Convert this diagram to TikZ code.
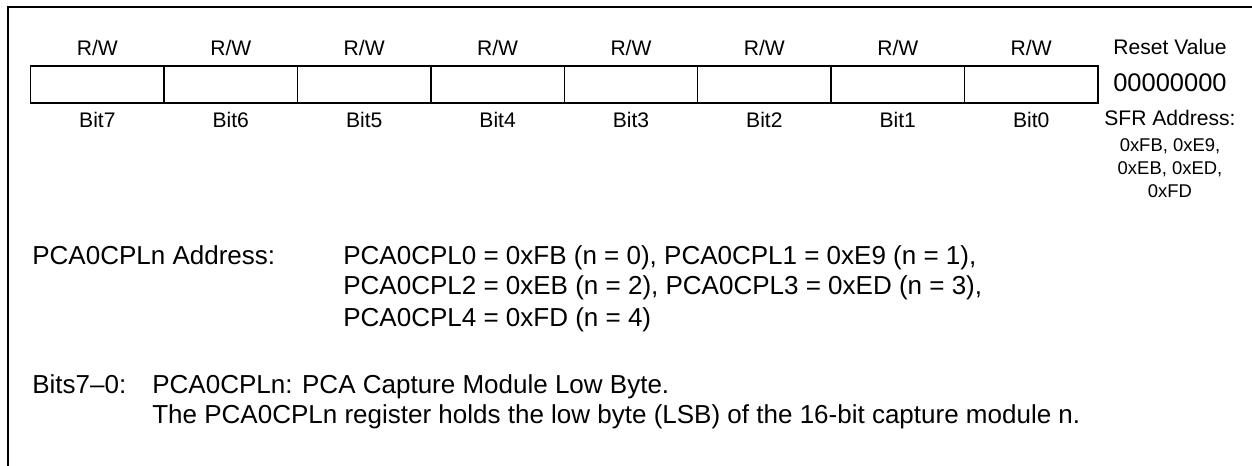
\documentclass[tikz,border=0pt]{standalone}
\usepackage{fontspec}
\setmainfont{Liberation Sans}
\usetikzlibrary{positioning}

\tikzset{
  bitcell/.style={draw, line width=0.85pt, minimum width=2.668cm, minimum height=0.74cm, inner sep=0pt},
  lbl/.style={font=\fontsize{12}{14}\selectfont, inner sep=0pt, anchor=base},
  txt/.style={font=\fontsize{14.8}{18}\selectfont, inner sep=0pt, anchor=base west},
}

\begin{document}
\begin{tikzpicture}[x=0.02cm, y=-0.02cm]
                \useasboundingbox (0,0) rectangle (1252,466);
                % frame
                \draw[line width=1.15pt] (8,466) -- (8,7) -- (1252,7);
                % register cells
                \foreach \i/\b in {0/7,1/6,2/5,3/4,4/3,5/2,6/1,7/0}{
                  \node[bitcell] (cell\b) at ({97.4+133.4*\i},84.5) {};
                  \node[lbl, above=5.7pt of cell\b.north, anchor=base] (rw\b) {R/W};
                  \node[lbl, below=13.7pt of cell\b.south, anchor=base] (bit\b) {Bit\b};
                }
                \node[lbl] (reset) at (1170,55) {Reset Value};
                \node[inner sep=0pt, anchor=base, font=\fontsize{14.5}{16}\selectfont] (rval) at (1170,92) {00000000};
                \node[lbl] (sfr) at (1170,126) {SFR Address:};
                \node[inner sep=0pt, anchor=north, align=center, font=\fontsize{10.5}{13.1}\selectfont] (sfrlist) at (1170,138)
                  {0xFB, 0xE9,\\0xEB, 0xED,\\0xFD};
                % address lines
                \node[txt] (addr) at (32,264) {PCA0CPLn Address:};
                \node[txt] (addr1) at (343,264) {PCA0CPL0 = 0xFB (n = 0), PCA0CPL1 = 0xE9 (n = 1),};
                \node[txt] (addr2) at (343,295) {PCA0CPL2 = 0xEB (n = 2), PCA0CPL3 = 0xED (n = 3),};
                \node[txt] (addr3) at (343,326) {PCA0CPL4 = 0xFD (n = 4)};
                % bit description
                \node[txt] (bits) at (32,393) {Bits7--0:};
                \node[txt] (desc1) at (152,393) {PCA0CPLn: PCA Capture Module Low Byte.};
                \node[txt] (desc2) at (152,423) {The PCA0CPLn register holds the low byte (LSB) of the 16-bit capture module n.};
            \end{tikzpicture}
\end{document}
